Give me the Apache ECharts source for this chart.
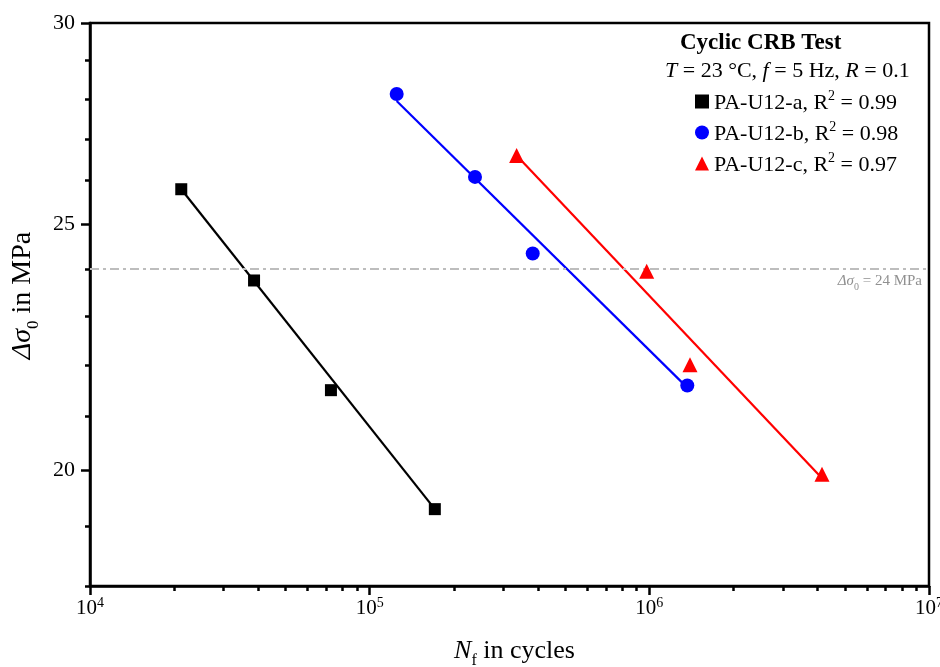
<!DOCTYPE html>
<html>
<head>
<meta charset="utf-8">
<script src="https://cdn.jsdelivr.net/npm/echarts@6/dist/echarts.min.js"></script>
<style>html,body{margin:0;padding:0;background:#fff}#c{width:940px;height:667px}</style>
</head>
<body>
<div id="c"></div>
<script>
// ---- data ----
const seriesNames = ['PA-U12-a', 'PA-U12-b', 'PA-U12-c'];
const r2Values = ['0.99', '0.98', '0.97'];
const aN = [21200, 38600, 72700, 171000];
const aS = [25.8, 23.75, 21.5, 19.3];
const bN = [124900, 238000, 382800, 1367000];
const bS = [28.13, 26.09, 24.34, 21.59];
const cN = [335300, 978400, 1398000, 4144000];
const cS = [26.6, 23.95, 22.0, 19.92];
const aFitN = [21200, 171000];
const aFitS = [25.8, 19.3];
const bFitN = [124900, 1367000];
const bFitS = [27.95, 21.55];
const cFitN = [335300, 4144000];
const cFitS = [26.6, 19.85];
const refLine = 24;
const xMajorTicks = [1e4, 1e5, 1e6, 1e7];
const xMinorTicks = [2e4,3e4,4e4,5e4,6e4,7e4,8e4,9e4,2e5,3e5,4e5,5e5,6e5,7e5,8e5,9e5,2e6,3e6,4e6,5e6,6e6,7e6,8e6,9e6];
const yMajorTicks = [20, 25, 30];
const yMinorTicks = [18, 19, 21, 22, 23, 24, 26, 27, 28, 29];

const FONT = 'Liberation Serif';
const zip = (xs, ys) => xs.map((x, i) => [x, ys[i]]);

const chart = echarts.init(document.getElementById('c'), null, {renderer: 'canvas'});
const colors = ['#000000', '#0000ff', '#ff0000'];
const symbols = ['rect', 'circle', 'triangle'];
const symSizes = [12, 14, 15];

const nameRich = (fs) => ({
  i: {fontFamily: FONT, fontSize: fs, fontStyle: 'italic', color: '#000', verticalAlign: 'bottom'},
  sub: {fontFamily: FONT, fontSize: Math.round(fs * 0.6), color: '#000', verticalAlign: 'bottom', padding: [0, 0, -5, 0]},
  t: {fontFamily: FONT, fontSize: fs, color: '#000', verticalAlign: 'bottom'}
});

const option = {
  animation: false,
  backgroundColor: '#fff',
  textStyle: {fontFamily: FONT},
  grid: {left: 90, right: 11, top: 23, bottom: 81, show: true, borderColor: '#000', borderWidth: 2.5,
         backgroundColor: 'transparent', outerBoundsMode: 'none', containLabel: false},
  xAxis: [{
    type: 'log', logBase: 10, min: 1e4, max: 1e7,
    name: '{i|N}{sub|f}{t| in cycles}',
    nameLocation: 'middle', nameGap: 52,
    nameTextStyle: {rich: nameRich(26), padding: [0, 0, 0, 10]},
    axisLine: {lineStyle: {color: '#000', width: 2.5}},
    axisTick: {inside: false, length: 9, lineStyle: {color: '#000', width: 2.5}, customValues: xMajorTicks},
    minorTick: {show: false},
    splitLine: {show: false},
    axisLabel: {
      customValues: xMajorTicks, margin: 10,
      formatter: v => '{b|10}{s|' + Math.round(Math.log10(v)) + '}',
      rich: {
        b: {fontFamily: FONT, fontSize: 21, color: '#000', lineHeight: 23, verticalAlign: 'bottom'},
        s: {fontFamily: FONT, fontSize: 14, color: '#000', verticalAlign: 'top', lineHeight: 14}
      }
    }
  }, {
    type: 'log', logBase: 10, min: 1e4, max: 1e7, position: 'bottom',
    axisLine: {show: false},
    axisTick: {inside: false, length: 5, lineStyle: {color: '#000', width: 2.5}, customValues: xMinorTicks},
    axisLabel: {show: false},
    splitLine: {show: false}
  }],
  yAxis: [{
    type: 'log', logBase: 10, min: 18, max: 30,
    name: '{i|Δσ}{sub|0}{t| in MPa}',
    nameLocation: 'middle', nameGap: 43, nameRotate: 90,
    nameTextStyle: {rich: nameRich(28), padding: [0, 0, 0, 18]},
    axisLine: {show: true, lineStyle: {color: '#000', width: 2.5}},
    axisTick: {show: true, inside: false, length: 9, lineStyle: {color: '#000', width: 2.5}, customValues: yMajorTicks},
    axisLabel: {customValues: yMajorTicks, margin: 15, fontFamily: FONT, fontSize: 22, color: '#000'},
    splitLine: {show: false}
  }, {
    type: 'log', logBase: 10, min: 18, max: 30, position: 'left',
    axisLine: {show: false},
    axisTick: {show: true, inside: false, length: 5, lineStyle: {color: '#000', width: 2.5}, customValues: yMinorTicks},
    axisLabel: {show: false},
    splitLine: {show: false}
  }],
  legend: {
    orient: 'vertical', left: 695, top: 89, itemGap: 6,
    itemWidth: 14, itemHeight: 14, itemStyle: {opacity: 1},
    data: seriesNames.map((n, i) => ({name: n, icon: symbols[i]})),
    formatter: name => {
      const i = seriesNames.indexOf(name);
      return '{t|' + name + ', R}{s|2}{t| = ' + r2Values[i] + '}';
    },
    textStyle: {rich: {
      t: {fontFamily: FONT, fontSize: 22, color: '#000', verticalAlign: 'bottom', lineHeight: 25},
      s: {fontFamily: FONT, fontSize: 14, color: '#000', verticalAlign: 'top', lineHeight: 14}
    }},
    padding: [0, 0, 0, 0]
  },
  graphic: [{
    type: 'text', left: 680, top: 32,
    style: {text: 'Cyclic CRB Test', font: 'bold 23px "Liberation Serif"', fill: '#000'}
  }, {
    type: 'text', left: 665, top: 60,
    style: {
      text: '{i|T}{t| = 23 °C, }{i|f}{t| = 5 Hz, }{i|R}{t| = 0.1}',
      rich: {
        i: {fontFamily: FONT, fontSize: 22, fontStyle: 'italic', fill: '#000'},
        t: {fontFamily: FONT, fontSize: 22, fill: '#000'}
      }
    }
  }],
  series: [
    {name: seriesNames[0], type: 'scatter', data: zip(aN, aS), symbol: symbols[0], symbolSize: symSizes[0], itemStyle: {color: colors[0], opacity: 1}, z: 5},
    {name: seriesNames[1], type: 'scatter', data: zip(bN, bS), symbol: symbols[1], symbolSize: symSizes[1], itemStyle: {color: colors[1], opacity: 1}, z: 5},
    {name: seriesNames[2], type: 'scatter', data: zip(cN, cS), symbol: symbols[2], symbolSize: symSizes[2], itemStyle: {color: colors[2], opacity: 1}, z: 5},
    {name: 'fitA', type: 'line', data: zip(aFitN, aFitS), showSymbol: false, symbol: 'none', lineStyle: {color: colors[0], width: 2.2}, z: 4},
    {name: 'fitB', type: 'line', data: zip(bFitN, bFitS), showSymbol: false, symbol: 'none', lineStyle: {color: colors[1], width: 2.2}, z: 4},
    {name: 'fitC', type: 'line', data: zip(cFitN, cFitS), showSymbol: false, symbol: 'none', lineStyle: {color: colors[2], width: 2.2}, z: 4,
      markLine: {
        silent: true, symbol: ['none', 'none'],
        lineStyle: {color: '#bdbdbd', width: 2, type: [9, 4, 3, 4]},
        label: {
          position: 'insideEndBottom', distance: [7, 5],
          formatter: '{i|Δσ}{sub|0}{t| = ' + refLine + ' MPa}',
          rich: {
            i: {fontFamily: FONT, fontSize: 15, fontStyle: 'italic', color: '#909090', verticalAlign: 'bottom'},
            sub: {fontFamily: FONT, fontSize: 10, color: '#909090', verticalAlign: 'bottom', padding: [0, 0, -3, 0]},
            t: {fontFamily: FONT, fontSize: 15, color: '#909090', verticalAlign: 'bottom'}
          }
        },
        data: [{yAxis: refLine}]
      }
    }
  ]
};
chart.setOption(option);
</script>
</body>
</html>
